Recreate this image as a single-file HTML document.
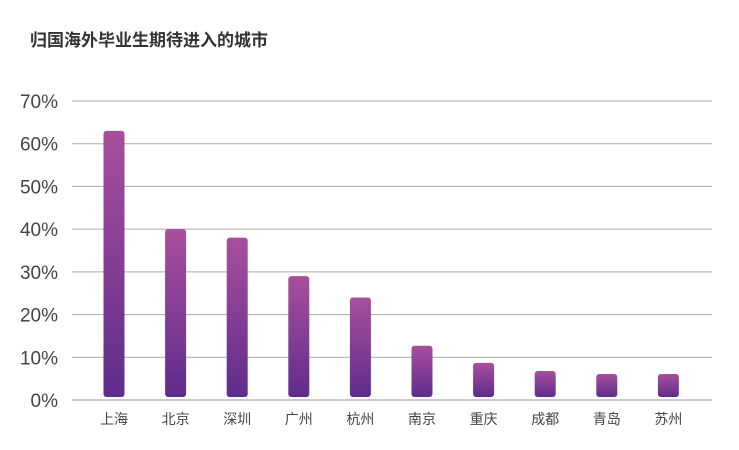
<!DOCTYPE html>
<html><head><meta charset="utf-8">
<style>
body{margin:0;background:#fff;}
svg{display:block;font-family:"Liberation Sans","Noto Sans CJK SC",sans-serif;}
</style></head>
<body>
<svg width="739" height="450" viewBox="0 0 739 450">
<defs>
<linearGradient id="g" x1="0" y1="0" x2="0" y2="1">
<stop offset="0" stop-color="#a84f9c"/>
<stop offset="1" stop-color="#5f2c8c"/>
</linearGradient>
</defs>
<text x="30" y="46" font-size="17" font-weight="bold" fill="#333">归国海外毕业生期待进入的城市</text>
<g id="grid"></g>
<g id="bars"></g>
<g id="xl"></g>
<script>
const categories=["上海","北京","深圳","广州","杭州","南京","重庆","成都","青岛","苏州"];
const values=[63,40,38,29,24,12.7,8.7,6.8,6.1,6.1];
const ticks=[0,10,20,30,40,50,60,70];
const ns="http://www.w3.org/2000/svg";
const y0=400,pxPer=(400-101)/70;
function y(v){return y0-v*pxPer;}
function x(i){return 114+i*61.6;}
const grid=document.getElementById('grid');
ticks.forEach(t=>{
 const l=document.createElementNS(ns,'line');
 
 
 l.setAttribute('x1',72);l.setAttribute('x2',712);l.setAttribute('y1',y(t));l.setAttribute('y2',y(t));
 l.setAttribute('stroke',t===0?'#999':'#aaa');l.setAttribute('stroke-width',1);
 grid.appendChild(l);
 const tx=document.createElementNS(ns,'text');
 
 
 tx.setAttribute('x',58);tx.setAttribute('y',y(t)+7);tx.setAttribute('text-anchor','end');
 tx.setAttribute('font-size',19);tx.setAttribute('fill','#444');
 tx.textContent=t+'%';grid.appendChild(tx);
});
const bars=document.getElementById('bars'),xl=document.getElementById('xl');
values.forEach((v,i)=>{
 const r=document.createElementNS(ns,'rect');
 
 
 r.setAttribute('x',x(i)-10.5);r.setAttribute('width',21);
 r.setAttribute('y',y(v));r.setAttribute('height',y(0)-3-y(v));
 r.setAttribute('rx',3);r.setAttribute('fill','url(#g)');
 bars.appendChild(r);
 const t=document.createElementNS(ns,'text');
 
 
 t.setAttribute('x',x(i));t.setAttribute('y',424);t.setAttribute('text-anchor','middle');
 t.setAttribute('font-size',14);t.setAttribute('fill','#444');
 t.textContent=categories[i];xl.appendChild(t);
});
</script>
</svg>
</body></html>
